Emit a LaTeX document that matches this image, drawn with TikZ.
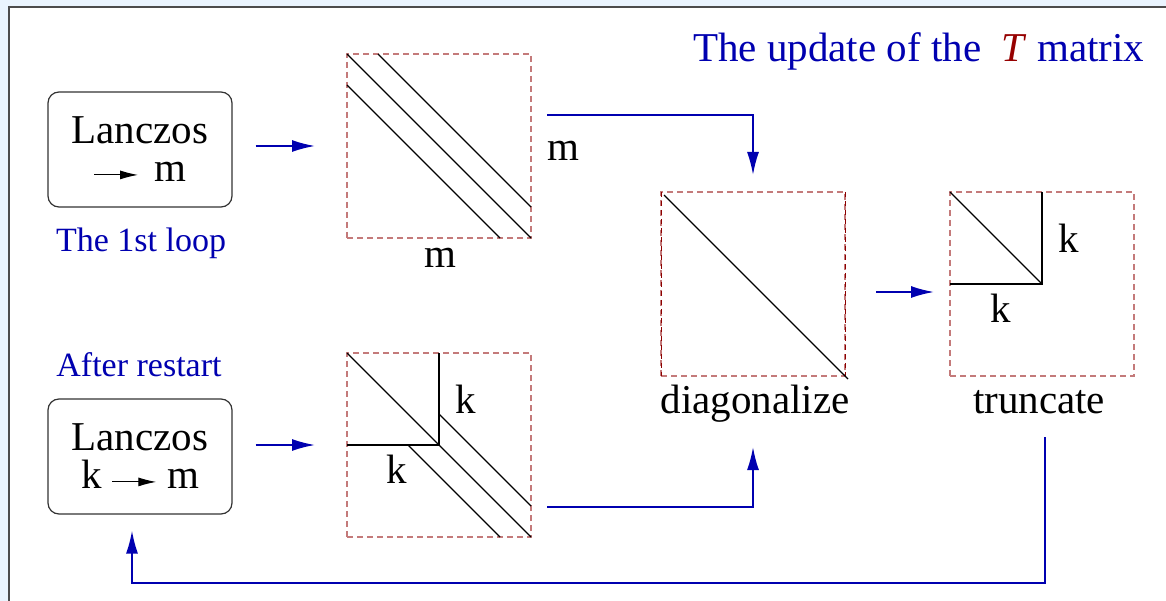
\documentclass[tikz,border=0pt]{standalone}
\usepackage{fontspec}
\setmainfont{Liberation Serif}
\usetikzlibrary{arrows.meta,positioning,calc}
\definecolor{slideblue}{RGB}{0,0,176}
\definecolor{tred}{RGB}{150,0,0}
\definecolor{dashred}{RGB}{196,122,122}
\definecolor{edgered}{RGB}{140,0,0}
\definecolor{paleblue}{RGB}{234,244,254}
% small black arrow used inside the Lanczos boxes
\newcommand{\lanarrow}{\tikz[baseline=-7pt]\draw[line width=1pt,-{Latex[length=18pt,width=9pt]}] (0pt,0pt) -- (44pt,0pt);}

\begin{document}
\begin{tikzpicture}[x=1pt,y=-1pt,
  lanbox/.style={draw=black!80,line width=1.2pt,rounded corners=11pt,minimum width=184pt,minimum height=115pt,
    align=center,inner sep=0pt,font=\fontsize{41}{38}\selectfont},
  mat/.style={draw=dashred,line width=1.3pt,dash pattern=on 6pt off 4pt,minimum size=184pt,inner sep=0pt,outer sep=0pt},
  band/.style={line width=1.1pt,black},
  flow/.style={draw=slideblue,line width=1.8pt,-{Latex[length=23pt,width=12pt]}},
  lbl/.style={font=\fontsize{41}{41}\selectfont,anchor=base,inner sep=0pt},
  note/.style={font=\fontsize{34}{34}\selectfont,text=slideblue,anchor=base,inner sep=0pt}]
\useasboundingbox (0,0) rectangle (1166,601);
% slide frame
\fill[paleblue] (0,0) rectangle (1166,601);
\fill[white] (9,7) rectangle (1166,601);
\draw[black!70,line width=1.2pt] (9,601) -- (9,7) -- (1166,7);
% title
\node[anchor=base west,inner sep=0pt,font=\fontsize{41}{41}\selectfont,text=slideblue] (title) at (693,62)
  {The update of the \ \textcolor{tred}{\textit{T}}\ matrix};
% Lanczos boxes
\node[lanbox] (L1) at (140,149.5) {Lanczos\\\lanarrow\hspace{16pt}m};
\node[note] (loop1) at (141,252) {The 1st loop};
\node[note] (restart) at (139,376) {After restart};
\node[lanbox] (L2) at (140,456.5) {Lanczos\\k\ \lanarrow\ m};
% matrices
\node[mat] (M1) at (439,146) {};
\node[mat] (M2) at (439,445) {};
\node[mat] (D) at (753,284) {};
\node[mat] (Tr) at (1042,284) {};
\draw[edgered,line width=0.9pt,dash pattern=on 5pt off 4pt] (D.north west) -- (D.south west) (D.north east) -- (D.south east);
% M1: tridiagonal band
\draw[band] (M1.north west) -- (M1.south east);
\draw[band] ([xshift=31pt]M1.north west) -- ([yshift=31pt]M1.south east);
\draw[band] ([yshift=-31pt]M1.north west) -- ([xshift=-31pt]M1.south east);
\node[lbl,anchor=base west] (m1r) at (547,161) {m};
\node[lbl] (m1b) at (440,268) {m};
% M2: k block plus band
\draw[band] (M2.north) -- (M2.center) -- (M2.west);
\draw[band] (M2.north west) -- (M2.south east);
\draw[band] ([yshift=-61pt]M2.north) -- ([yshift=31pt]M2.south east);
\draw[band] ([xshift=-31pt]M2.center) -- ([xshift=-31pt]M2.south east);
\node[lbl,anchor=base west] (k2r) at (455,413) {k};
\node[lbl,anchor=base west] (k2b) at (386,483) {k};
% D: diagonal
\draw[band] ([shift={(3pt,-3pt)}]D.north west) -- ([shift={(3pt,-3pt)}]D.south east);
\node[lbl] (dlab) at (755,413) {diagonalize};
% Tr: truncated k block
\draw[band] (Tr.north) -- (Tr.center) -- (Tr.west);
\draw[band] (Tr.north west) -- (Tr.center);
\node[lbl,anchor=base west] (ktr) at (1058,253) {k};
\node[lbl,anchor=base west] (ktb) at (990,322) {k};
\node[lbl] (tlab) at (1039,413) {truncate};
% flow arrows
\draw[flow,shorten <=23pt,shorten >=32pt] (L1.east |- M1.west) -- (M1.west);
\draw[flow,shorten <=23pt,shorten >=32pt] (L2.east |- M2.west) -- (M2.west);
\draw[flow,shorten <=16pt,shorten >=17pt] ([yshift=31pt]M1.east) -| (D.north);
\draw[flow,shorten <=16pt,shorten >=71pt] ([yshift=-62pt]M2.east) -| (D.south);
\draw[flow,shorten <=31pt,shorten >=16pt] ([yshift=-8pt]D.east) -- ([yshift=-8pt]Tr.west);
\draw[flow,shorten <=61pt,shorten >=16pt] ([xshift=3pt]Tr.south) -- ++(0,207) -| ([xshift=-8pt]L2.south);
\end{tikzpicture}
\end{document}
